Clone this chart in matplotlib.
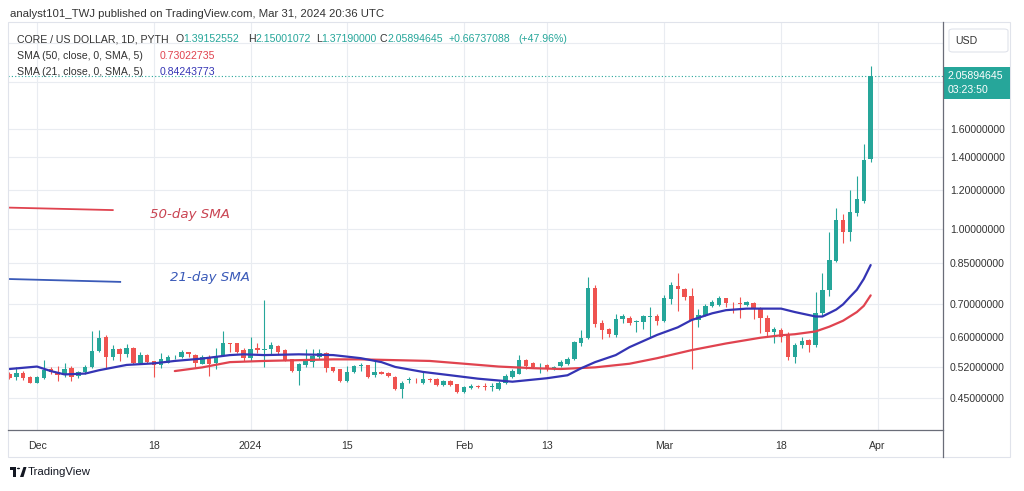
import matplotlib.pyplot as plt
import matplotlib.dates as mdates
from matplotlib.patches import Rectangle, FancyBboxPatch, Polygon, Circle
from matplotlib.lines import Line2D
import numpy as np
import pandas as pd

plt.rcParams['font.family'] = ['Liberation Sans', 'DejaVu Sans']

# ---- data (CORE / USD, daily) ----
dates = pd.date_range('2023-11-27', '2024-03-31', freq='D')

opens = [
    0.505, 0.496, 0.506, 0.497,
    0.484, 0.494, 0.515, 0.508, 0.501, 0.518, 0.499, 0.509, 0.520, 0.562,
    0.600, 0.545, 0.568, 0.553, 0.571, 0.530, 0.551, 0.535, 0.525, 0.532,
    0.545, 0.547, 0.558, 0.551, 0.529, 0.547, 0.530, 0.549, 0.583, 0.582, 0.564,
    0.544, 0.571, 0.565, 0.566, 0.575, 0.564, 0.540, 0.511, 0.526, 0.534,
    0.545, 0.556, 0.520, 0.515, 0.488, 0.509, 0.523, 0.525, 0.501, 0.508,
    0.506, 0.498, 0.470, 0.489, 0.491, 0.482, 0.493, 0.493, 0.478, 0.488, 0.480,
    0.464, 0.472, 0.476, 0.477, 0.473, 0.470, 0.482, 0.497, 0.505, 0.538,
    0.530, 0.520, 0.525, 0.515, 0.523, 0.528, 0.540, 0.583, 0.597, 0.755,
    0.640, 0.622, 0.606, 0.652, 0.656, 0.644, 0.645, 0.659, 0.661,
    0.648, 0.718, 0.764, 0.752, 0.727, 0.650, 0.666, 0.694, 0.698, 0.720,
    0.705, 0.703, 0.698, 0.705, 0.686, 0.655, 0.614, 0.620, 0.608, 0.547,
    0.578, 0.591, 0.578, 0.671, 0.749, 0.860, 1.040, 0.985, 1.078, 1.140, 1.39152552,
]
highs = [
    0.508, 0.522, 0.510, 0.499,
    0.499, 0.538, 0.522, 0.524, 0.532, 0.524, 0.512, 0.526, 0.618, 0.620,
    0.605, 0.578, 0.571, 0.580, 0.573, 0.560, 0.553, 0.537, 0.557, 0.551,
    0.550, 0.564, 0.560, 0.553, 0.551, 0.551, 0.570, 0.618, 0.584, 0.583, 0.570,
    0.600, 0.582, 0.714, 0.586, 0.578, 0.566, 0.542, 0.532, 0.566, 0.566,
    0.568, 0.560, 0.522, 0.517, 0.524, 0.526, 0.532, 0.527, 0.538, 0.512,
    0.508, 0.500, 0.488, 0.498, 0.495, 0.509, 0.494, 0.494, 0.490, 0.490, 0.481,
    0.476, 0.480, 0.478, 0.484, 0.484, 0.488, 0.505, 0.515, 0.551, 0.541,
    0.533, 0.530, 0.528, 0.524, 0.538, 0.547, 0.590, 0.620, 0.797, 0.766,
    0.650, 0.626, 0.670, 0.669, 0.661, 0.650, 0.667, 0.690, 0.670,
    0.733, 0.779, 0.810, 0.757, 0.757, 0.684, 0.700, 0.714, 0.727, 0.722,
    0.708, 0.725, 0.712, 0.708, 0.690, 0.666, 0.628, 0.626, 0.614, 0.582,
    0.599, 0.594, 0.742, 0.812, 0.985, 1.105, 1.070, 1.200, 1.280, 1.490, 2.15001072,
]
lows = [
    0.492, 0.490, 0.489, 0.482,
    0.482, 0.492, 0.505, 0.488, 0.497, 0.488, 0.495, 0.505, 0.518, 0.560,
    0.518, 0.538, 0.536, 0.547, 0.528, 0.528, 0.530, 0.497, 0.518, 0.530,
    0.540, 0.543, 0.547, 0.522, 0.528, 0.500, 0.515, 0.548, 0.560, 0.557, 0.536,
    0.536, 0.557, 0.522, 0.555, 0.555, 0.535, 0.509, 0.478, 0.521, 0.520,
    0.541, 0.508, 0.508, 0.486, 0.486, 0.506, 0.510, 0.494, 0.496, 0.503,
    0.498, 0.468, 0.451, 0.482, 0.482, 0.481, 0.486, 0.476, 0.476, 0.476, 0.461,
    0.461, 0.470, 0.471, 0.468, 0.466, 0.468, 0.480, 0.494, 0.503, 0.517,
    0.518, 0.506, 0.510, 0.513, 0.521, 0.526, 0.538, 0.575, 0.595, 0.630,
    0.595, 0.601, 0.601, 0.640, 0.636, 0.615, 0.623, 0.600, 0.635,
    0.645, 0.700, 0.679, 0.714, 0.516, 0.630, 0.662, 0.690, 0.696, 0.690,
    0.671, 0.656, 0.694, 0.652, 0.612, 0.602, 0.582, 0.586, 0.538, 0.532,
    0.570, 0.560, 0.573, 0.661, 0.727, 0.855, 0.935, 0.943, 1.060, 1.130, 1.37190000,
]
closes = [
    0.495, 0.506, 0.494, 0.484,
    0.497, 0.513, 0.508, 0.501, 0.516, 0.497, 0.509, 0.522, 0.562, 0.597,
    0.547, 0.568, 0.553, 0.571, 0.530, 0.551, 0.534, 0.525, 0.542, 0.547,
    0.547, 0.558, 0.555, 0.530, 0.547, 0.529, 0.547, 0.582, 0.580, 0.560, 0.544,
    0.568, 0.564, 0.568, 0.578, 0.560, 0.538, 0.511, 0.528, 0.540, 0.549,
    0.556, 0.518, 0.512, 0.488, 0.509, 0.524, 0.525, 0.496, 0.509, 0.505,
    0.500, 0.470, 0.484, 0.492, 0.489, 0.492, 0.490, 0.478, 0.488, 0.478, 0.463,
    0.474, 0.476, 0.473, 0.473, 0.476, 0.482, 0.499, 0.511, 0.538, 0.524,
    0.520, 0.522, 0.515, 0.521, 0.534, 0.541, 0.586, 0.597, 0.755, 0.638,
    0.620, 0.608, 0.654, 0.662, 0.640, 0.646, 0.661, 0.661, 0.648,
    0.722, 0.766, 0.752, 0.725, 0.650, 0.666, 0.695, 0.708, 0.722, 0.703,
    0.703, 0.702, 0.709, 0.686, 0.655, 0.614, 0.622, 0.601, 0.545, 0.578,
    0.589, 0.578, 0.671, 0.749, 0.862, 1.040, 0.985, 1.083, 1.148, 1.385, 2.05894645,
]
change_text = '+0.66737088'
change_pct_text = '(+47.96%)'

# moving averages as drawn on the chart (sampled along the line)
sma21_dates = ['2023-11-27', '2023-12-01', '2023-12-03', '2023-12-05', '2023-12-08',
               '2023-12-10', '2023-12-14', '2023-12-18', '2023-12-21', '2023-12-25',
               '2023-12-29', '2023-12-31', '2024-01-03', '2024-01-08', '2024-01-13',
               '2024-01-15', '2024-01-17', '2024-01-20', '2024-01-22', '2024-01-26',
               '2024-01-30', '2024-02-03', '2024-02-08', '2024-02-13', '2024-02-16',
               '2024-02-18', '2024-02-20', '2024-02-23', '2024-02-25', '2024-02-29',
               '2024-03-03', '2024-03-05', '2024-03-08', '2024-03-10', '2024-03-13',
               '2024-03-16', '2024-03-18', '2024-03-20', '2024-03-23', '2024-03-24',
               '2024-03-26', '2024-03-27', '2024-03-28', '2024-03-29', '2024-03-30',
               '2024-03-31']
sma21_vals = [0.516, 0.522, 0.511, 0.503, 0.505, 0.513, 0.526, 0.530, 0.536, 0.542,
              0.551, 0.553, 0.551, 0.553, 0.551, 0.547, 0.543, 0.533, 0.521, 0.509,
              0.501, 0.493, 0.486, 0.494, 0.501, 0.518, 0.533, 0.551, 0.572, 0.606,
              0.628, 0.650, 0.671, 0.681, 0.686, 0.686, 0.686, 0.675, 0.661, 0.661,
              0.683, 0.700, 0.725, 0.750, 0.789, 0.84243773]

sma50_dates = ['2023-12-21', '2023-12-25', '2023-12-29', '2024-01-03', '2024-01-08',
               '2024-01-13', '2024-01-17', '2024-01-22', '2024-01-27', '2024-02-01',
               '2024-02-06', '2024-02-11', '2024-02-15', '2024-02-20', '2024-02-25',
               '2024-02-29', '2024-03-05', '2024-03-10', '2024-03-15', '2024-03-18',
               '2024-03-20', '2024-03-23', '2024-03-25', '2024-03-27', '2024-03-29',
               '2024-03-30', '2024-03-31']
sma50_vals = [0.511, 0.520, 0.533, 0.536, 0.538, 0.540, 0.540, 0.538, 0.536, 0.529,
              0.522, 0.518, 0.516, 0.520, 0.529, 0.543, 0.564, 0.582, 0.598, 0.605,
              0.608, 0.616, 0.630, 0.648, 0.675, 0.695, 0.73022735]

price_ticks = [0.45, 0.52, 0.60, 0.70, 0.85, 1.00, 1.20, 1.40, 1.60, 2.00, 2.40]
price_labels = ['0.45000000', '0.52000000', '0.60000000', '0.70000000', '0.85000000',
                '1.00000000', '1.20000000', '1.40000000', '1.60000000', '', '']
date_ticks = ['2023-12-01', '2023-12-18', '2024-01-01', '2024-01-15', '2024-02-01',
              '2024-02-13', '2024-03-01', '2024-03-18', '2024-04-01']
date_labels = ['Dec', '18', '2024', '15', 'Feb', '13', 'Mar', '18', 'Apr']

UP = '#26a69a'
DOWN = '#ef5350'
SMA50_C = '#e0434f'
SMA21_C = '#3434b4'
TXT = '#333333'

# ---- figure ----
W, H = 1024, 491
fig = plt.figure(figsize=(W / 100, H / 100), dpi=100)


def fx(px):
    return px / W


def fy(py):
    return 1 - py / H


ax = fig.add_axes([fx(8), fy(430), fx(943) - fx(8), fy(22) - fy(430)])
ax.set_yscale('log')

x = mdates.date2num(dates)
o = np.array(opens)
h = np.array(highs)
l = np.array(lows)
c = np.array(closes)
cols = np.where(c >= o, UP, DOWN)
bottoms = np.minimum(o, c)
heights = np.maximum(np.abs(c - o), bottoms * 0.004)

ax.vlines(x, l, h, colors=cols, lw=0.8, zorder=3)
ax.bar(x, heights, bottom=bottoms, width=0.64, color=cols, lw=0, zorder=4)

ax.plot(mdates.date2num(pd.to_datetime(sma50_dates)), sma50_vals,
        color=SMA50_C, lw=1.6, zorder=5, solid_capstyle='round')
ax.plot(mdates.date2num(pd.to_datetime(sma21_dates)), sma21_vals,
        color=SMA21_C, lw=1.6, zorder=5, solid_capstyle='round')

# last price dotted line
ax.axhline(closes[-1], color=UP, lw=0.8, ls=(0, (1, 2)), zorder=2)

dec1 = mdates.date2num(pd.Timestamp('2023-12-01'))
ax.set_xlim(dec1 - 4.21, dec1 + 131.5)
ax.set_ylim(0.387, 2.651)

ax.yaxis.tick_right()
ax.set_yticks(price_ticks)
ax.set_yticklabels(price_labels)
ax.yaxis.set_minor_locator(plt.NullLocator())
ax.set_xticks(mdates.date2num(pd.to_datetime(date_ticks)))
ax.set_xticklabels(date_labels)
ax.tick_params(axis='y', length=0, pad=5, labelsize=7.6, labelcolor=TXT)
ax.tick_params(axis='x', length=0, pad=8, labelsize=7.6, labelcolor=TXT)
ax.grid(True, color='#e9ecf1', lw=0.8)
ax.set_axisbelow(True)
for s in ax.spines.values():
    s.set_visible(False)

# drawn annotations
ax.plot([0.002, 0.112], [0.545, 0.539], transform=ax.transAxes, color=SMA50_C, lw=1.3)
ax.text(0.152, 0.529, '50-day SMA', transform=ax.transAxes, color='#c94452',
        fontsize=9.6, style='italic', va='center', family=['DejaVu Sans'])
ax.plot([0.002, 0.120], [0.370, 0.363], transform=ax.transAxes, color='#3a5ab8', lw=1.3)
ax.text(0.173, 0.374, '21-day SMA', transform=ax.transAxes, color='#3a5ab8',
        fontsize=9.6, style='italic', va='center', family=['DejaVu Sans'])

# frame lines
fig.add_artist(Rectangle((fx(8), fy(457)), fx(1010) - fx(8), fy(22) - fy(457),
                         transform=fig.transFigure, fill=False, ec='#e0e3eb', lw=0.8))
fig.add_artist(Line2D([fx(8), fx(943)], [fy(430), fy(430)], color='#6a6d78', lw=0.9))
fig.add_artist(Line2D([fx(943), fx(943)], [fy(22), fy(457)], color='#6a6d78', lw=0.9))

# header
fig.text(fx(10), fy(14), 'analyst101_TWJ published on TradingView.com, Mar 31, 2024 20:36 UTC',
         fontsize=8.2, color=TXT, va='center')


def put(px, py, s, color=TXT, size=7.6):
    return fig.text(fx(px), fy(py), s, fontsize=size, color=color, va='center')


renderer = fig.canvas.get_renderer()


def pair(px, py, key, val, color):
    t = put(px, py, key)
    x1 = t.get_window_extent(renderer).x1
    fig.text((x1 - 0.5) / W, fy(py), val, fontsize=7.6, color=color, va='center')


put(17, 39, 'CORE / US DOLLAR, 1D, PYTH')
pair(176, 39, 'O', f'{opens[-1]:.8f}', UP)
pair(248, 39, 'H', f'{highs[-1]:.8f}', UP)
pair(316, 39, 'L', f'{lows[-1]:.8f}', UP)
pair(380, 39, 'C', f'{closes[-1]:.8f}', UP)
put(449, 39, change_text, UP)
put(518, 39, change_pct_text, UP)
put(17, 56, 'SMA (50, close, 0, SMA, 5)')
put(160, 56, f'{sma50_vals[-1]:.8f}', SMA50_C)
put(17, 72, 'SMA (21, close, 0, SMA, 5)')
put(160, 72, f'{sma21_vals[-1]:.8f}', SMA21_C)

# USD box
fig.add_artist(FancyBboxPatch((fx(949), fy(52)), fx(1008) - fx(949), fy(29) - fy(52),
                              boxstyle='round,pad=0,rounding_size=0.004',
                              transform=fig.transFigure, fc='white', ec='#e0e3eb', lw=0.8))
put(955, 41, 'USD')

# last price label tied to the last close
fig.canvas.draw()
yd = ax.transData.transform((x[-1], closes[-1]))[1]
yc = fig.transFigure.inverted().transform((0, yd))[1]
fig.add_artist(Rectangle((fx(943), yc - 23 / H), fx(1010) - fx(943), 32 / H,
                         transform=fig.transFigure, fc=UP, ec='none'))
fig.text(fx(948), yc, f'{closes[-1]:.8f}', fontsize=7.6, color='white', va='center')
fig.text(fx(948), yc - 14 / H, '03:23:50', fontsize=7.6, color='white', va='center')

# TradingView logo
fig.add_artist(Rectangle((fx(10), fy(470)), fx(6), 3 / H, transform=fig.transFigure, fc='#131722'))
fig.add_artist(Rectangle((fx(13), fy(477)), fx(3), 10 / H, transform=fig.transFigure, fc='#131722'))
fig.add_artist(Circle((fx(18.5), fy(468.5)), 1.6 / W, transform=fig.transFigure, fc='#131722'))
fig.add_artist(Polygon([(fx(20), fy(477)), (fx(23.5), fy(467)), (fx(26.5), fy(467)),
                        (fx(23.5), fy(477))], closed=True, transform=fig.transFigure,
                       fc='#131722'))
put(28, 472, 'TradingView', color='#131722', size=8.2)

fig.savefig('out.png', dpi=100)
